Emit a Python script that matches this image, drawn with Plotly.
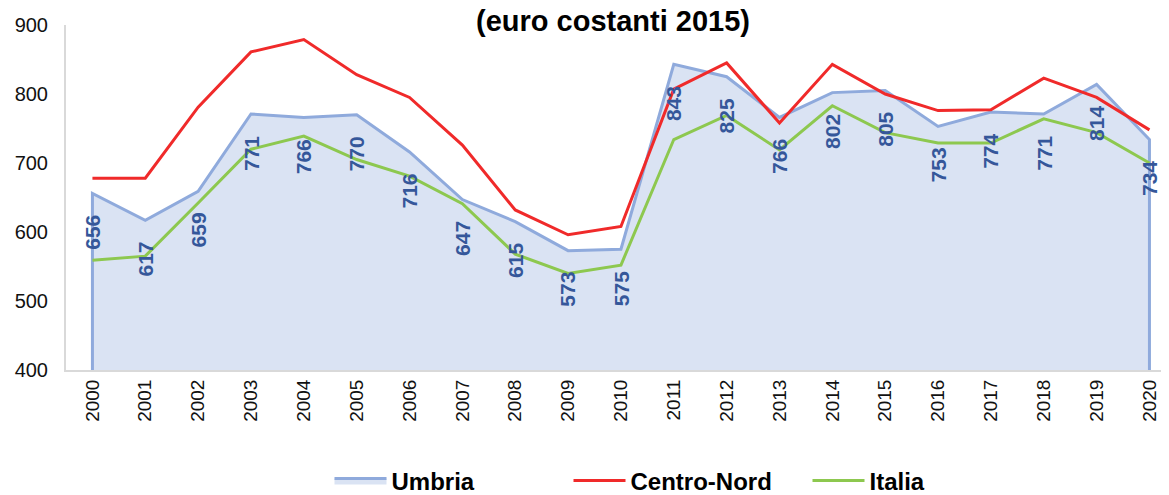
import plotly.graph_objects as go

years = list(range(2000, 2021))
umbria = [656, 617, 659, 771, 766, 770, 716, 647, 615, 573, 575, 843, 825, 766, 802, 805, 753, 774, 771, 814, 734]
centro_nord = [678, 678, 781, 861, 879, 828, 795, 726, 632, 596, 608, 807, 845, 758, 843, 800, 776, 777, 823, 795, 748]
italia = [559, 565, 642, 720, 739, 705, 681, 641, 568, 540, 552, 734, 769, 719, 783, 744, 729, 729, 764, 744, 700]
y_ticks = [400, 500, 600, 700, 800, 900]
title_text = "(euro costanti 2015)"

FONT = "Liberation Sans, Arial, sans-serif"
ymin = y_ticks[0]

# page body has an 8px margin, so the figure is sized to fit the window
W, H = 1161, 487

fig = go.Figure()
# Umbria area (closed down to the axis minimum so the side edges are outlined)
fig.add_trace(go.Scatter(
    x=[years[0]] + years + [years[-1]],
    y=[ymin] + umbria + [ymin],
    name="Umbria", mode="lines", fill="toself",
    fillcolor="#DAE3F3", line=dict(color="#8FAADC", width=3),
    hoverinfo="skip",
))
fig.add_trace(go.Scatter(
    x=years, y=centro_nord, name="Centro-Nord", mode="lines",
    line=dict(color="#F02A2A", width=3),
))
fig.add_trace(go.Scatter(
    x=years, y=italia, name="Italia", mode="lines",
    line=dict(color="#8DC84F", width=3),
))

for yr, v in zip(years, umbria):
    fig.add_annotation(
        x=yr, y=v, text=str(v), showarrow=False, textangle=-90,
        yshift=-39, font=dict(family=FONT, size=21, color="#35579A", weight="bold"),
    )

fig.update_layout(
    width=W, height=H,
    margin=dict(l=58, r=0, t=17, b=125, autoexpand=False),
    paper_bgcolor="white", plot_bgcolor="white",
    font=dict(family=FONT, size=19, color="#111111"),
    title=dict(text=title_text, x=605 / W, xref="container", xanchor="center",
               y=1 - 13 / H, yref="container", yanchor="middle",
               font=dict(family=FONT, size=29, color="#000000", weight="bold")),
    showlegend=True,
    legend=dict(orientation="h", x=(320 + 360) / W, xref="container", xanchor="center",
                y=1 - 473 / H, yref="container", yanchor="middle",
                font=dict(family=FONT, size=24, color="#000000", weight="bold"),
                itemwidth=52, entrywidth=172, entrywidthmode="pixels"),
)
fig.update_xaxes(
    range=[years[0] - 0.5, years[-1] + 0.37], tickmode="array", tickvals=years,
    ticktext=[str(y) for y in years], tickangle=-90, showgrid=False, automargin=False,
    showline=True, linecolor="#D9D9D9", linewidth=2, ticks="", zeroline=False,
    tickfont=dict(family=FONT, size=19, color="#111111"),
)
fig.update_yaxes(
    range=[y_ticks[0], y_ticks[-1]], tickvals=y_ticks, showgrid=False, automargin=False,
    showline=True, linecolor="#D9D9D9", linewidth=2, ticks="", zeroline=False,
    ticklabelstandoff=12,
    tickfont=dict(family=FONT, size=20, color="#111111"),
)

fig.write_html("out.html")
